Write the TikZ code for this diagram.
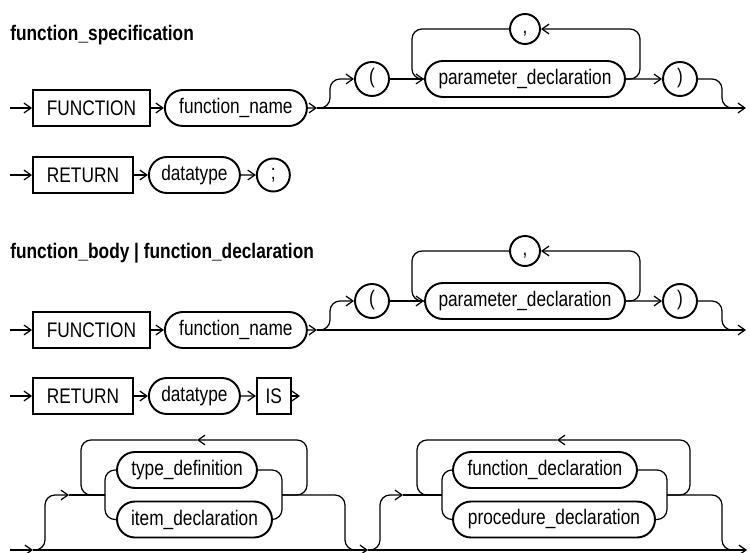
\documentclass[tikz,border=0pt]{standalone}
\usepackage{fontspec}
\setmainfont[FakeStretch=0.82]{Liberation Sans}
\usepackage{tikz}
\usetikzlibrary{arrows.meta, positioning, shapes.misc}
\definecolor{railblack}{HTML}{000000}

\begin{document}
\begin{tikzpicture}[
  x=0.02cm, y=-0.02cm,
  kw/.style={rectangle, draw=railblack, line width=1.1pt, minimum height=0.72cm,
             inner sep=0pt, font=\fontsize{12}{14}\selectfont},
  ident/.style={rounded rectangle, draw=railblack, line width=1.1pt, minimum height=0.72cm,
                inner sep=0pt, font=\fontsize{12}{14}\selectfont},
  sym/.style={circle, draw=railblack, line width=1.1pt, minimum size=0.68cm,
              inner sep=0pt, text height=0.72em, text depth=0.2em,
              font=\fontsize{12}{14}\selectfont},
  title/.style={anchor=base west, inner sep=0pt, font=\bfseries\fontsize{12}{14}\selectfont},
  conn/.style={railblack, line width=0.7pt, rounded corners=0.2cm},
  arr/.style={conn, -{Straight Barb[length=4pt, width=5.6pt]}},
]
  \useasboundingbox (0,0) rectangle (750,553);

  \node[title] (t1) at (10,41) {function\_specification};

  \coordinate (s1) at (10,108);
  \node[kw, minimum width=2.34cm] (func1) at (91.5,108) {FUNCTION};
  \node[ident, minimum width=2.84cm, right=0.26cm of func1] (fname1) {function\_name};
  \coordinate (sp1) at (317,108);
  \node[sym] (lpar1) at (372,79) {(};
  \node[ident, minimum width=4cm] (param1) at (525,79) {parameter\_declaration};
  \node[sym, minimum size=0.6cm] (comma1) at (525,29) {,};
  \node[sym] (rpar1) at (680,79) {)};
  \coordinate (e1) at (746,108);

  \draw[arr] (s1) -- (func1);
  \draw[arr] (func1) -- (fname1);
  \draw[arr] (fname1) -- (sp1);
  \draw[arr] (sp1) -- (e1);
  \draw[arr] (sp1) -- (330,108) -- (330,79) -- (lpar1);
  \draw[arr] (lpar1) -- (param1);
  \draw[arr] (param1) -- (rpar1);
  \draw[arr] (param1.east) -- (640,79) -- (640,29) -- (comma1);
  \draw[conn] (comma1) -- (412,29) -- (412,79) -- (param1.west);
  \draw[conn, shorten >=4pt] (rpar1) -- (722,79) -- (722,108) -- (e1);

  \coordinate (s2) at (10,175);
  \node[kw, minimum width=2cm] (ret1) at (83,175) {RETURN};
  \node[ident, minimum width=1.82cm, right=0.28cm of ret1] (dtype1) {datatype};
  \node[sym, minimum size=0.66cm, right=0.3cm of dtype1] (semi) {;};

  \draw[arr] (s2) -- (ret1);
  \draw[arr] (ret1) -- (dtype1);
  \draw[arr] (dtype1) -- (semi);

  \node[title] (t2) at (10,259) {function\_body | function\_declaration};

  \coordinate (s3) at (10,330);
  \node[kw, minimum width=2.34cm] (func2) at (91.5,330) {FUNCTION};
  \node[ident, minimum width=2.84cm, right=0.26cm of func2] (fname2) {function\_name};
  \coordinate (sp2) at (317,330);
  \node[sym] (lpar2) at (372,301) {(};
  \node[ident, minimum width=4cm] (param2) at (525,301) {parameter\_declaration};
  \node[sym, minimum size=0.6cm] (comma2) at (525,251) {,};
  \node[sym] (rpar2) at (680,301) {)};
  \coordinate (e3) at (746,330);

  \draw[arr] (s3) -- (func2);
  \draw[arr] (func2) -- (fname2);
  \draw[arr] (fname2) -- (sp2);
  \draw[arr] (sp2) -- (e3);
  \draw[arr] (sp2) -- (330,330) -- (330,301) -- (lpar2);
  \draw[arr] (lpar2) -- (param2);
  \draw[arr] (param2) -- (rpar2);
  \draw[arr] (param2.east) -- (640,301) -- (640,251) -- (comma2);
  \draw[conn] (comma2) -- (412,251) -- (412,301) -- (param2.west);
  \draw[conn, shorten >=4pt] (rpar2) -- (722,301) -- (722,330) -- (e3);

  \coordinate (s4) at (10,396);
  \node[kw, minimum width=2cm] (ret2) at (83,396) {RETURN};
  \node[ident, minimum width=1.82cm, right=0.28cm of ret2] (dtype2) {datatype};
  \node[kw, minimum width=0.68cm, right=0.3cm of dtype2] (is) {IS};
  \coordinate (e4) at (300,396);

  \draw[arr] (s4) -- (ret2);
  \draw[arr] (ret2) -- (dtype2);
  \draw[arr] (dtype2) -- (is);
  \draw[arr] (is) -- (e4);

  \coordinate (b0) at (10,550);
  \coordinate (b1) at (33,550);
  \coordinate (b2) at (368,550);
  \coordinate (b3) at (747,550);
  \coordinate (j1) at (69,495);
  \coordinate (j2) at (403,495);
  \node[ident, minimum width=2.8cm] (tdef) at (187,470) {type\_definition};
  \node[ident, minimum width=3.1cm] (idecl) at (194.5,519.5) {item\_declaration};
  \node[ident, minimum width=3.68cm] (fdecl) at (545,470) {function\_declaration};
  \node[ident, minimum width=4.04cm] (pdecl) at (554,519.5) {procedure\_declaration};

  \draw[arr] (b0) -- (b1);
  \draw[arr] (b1) -- (b2);
  \draw[arr] (b2) -- (b3);

  \draw[arr] (b1) -- (45,550) -- (45,495) -- (j1);
  \draw[conn] (j1) -- (105,495);
  \draw[conn] (tdef.west) -| (105,495) |- (idecl.west);
  \draw[conn] (tdef.east) -| (282,495) |- (idecl.east);
  \draw[arr] (282,495) -- (307,495) -- (307,440) -- (197,440);
  \draw[conn] (197,440) -- (81,440) -- (81,495) -- (105,495);
  \draw[conn, shorten >=4pt] (282,495) -- (345,495) -- (345,550) -- (b2);

  \draw[arr] (b2) -- (380,550) -- (380,495) -- (j2);
  \draw[conn] (j2) -- (442,495);
  \draw[conn] (fdecl.west) -| (442,495) |- (pdecl.west);
  \draw[conn] (fdecl.east) -| (667,495) |- (pdecl.east);
  \draw[arr] (667,495) -- (690,495) -- (690,440) -- (557,440);
  \draw[conn] (557,440) -- (417,440) -- (417,495) -- (442,495);
  \draw[conn, shorten >=4pt] (667,495) -- (722,495) -- (722,550) -- (b3);
\end{tikzpicture}
\end{document}
